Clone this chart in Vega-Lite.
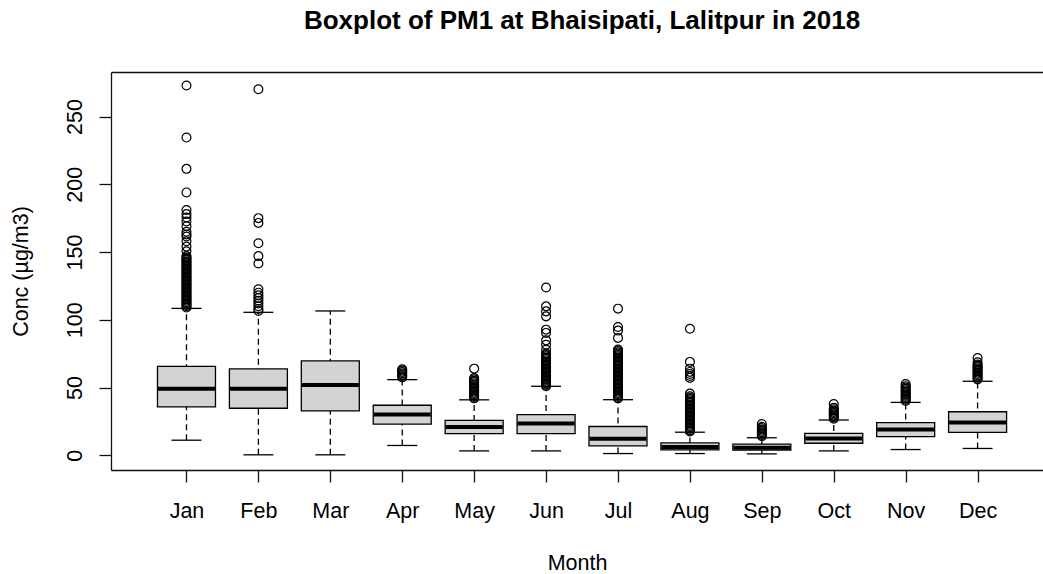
{
  "$schema": "https://vega.github.io/schema/vega-lite/v6.json",
  "width": 932,
  "height": 398,
  "autosize": "none",
  "padding": {"left": 111, "top": 72, "right": 0, "bottom": 104},
  "background": "white",
  "view": {"stroke": null},
  "config": {
    "font": "Liberation Sans",
    "axis": {"grid": false, "labelFont": "Liberation Sans", "titleFont": "Liberation Sans", "labelColor": "black", "titleColor": "black", "domainColor": "#111", "domainWidth": 1.3, "tickColor": "#111", "tickWidth": 1.3, "titleFontWeight": "normal"}
  },
  "title": {"text": "Boxplot of PM1 at Bhaisipati, Lalitpur in 2018", "font": "Liberation Sans", "fontSize": 26, "fontWeight": "bold", "color": "black", "anchor": "middle", "dx": 5, "offset": 38},
  "datasets": {
    "stats": [
      {"m": 1, "month": "Jan", "lo": 11.1, "q1": 35.7, "med": 49.0, "q3": 65.6, "hi": 108.4},
      {"m": 2, "month": "Feb", "lo": 0.3, "q1": 34.7, "med": 49.0, "q3": 63.7, "hi": 105.5},
      {"m": 3, "month": "Mar", "lo": 0.3, "q1": 32.7, "med": 51.9, "q3": 69.6, "hi": 106.5},
      {"m": 4, "month": "Apr", "lo": 7.2, "q1": 22.9, "med": 30.0, "q3": 36.9, "hi": 55.8},
      {"m": 5, "month": "May", "lo": 3.2, "q1": 16.0, "med": 20.9, "q3": 25.8, "hi": 40.9},
      {"m": 6, "month": "Jun", "lo": 3.2, "q1": 16.0, "med": 23.4, "q3": 30.0, "hi": 50.9},
      {"m": 7, "month": "Jul", "lo": 1.25, "q1": 6.9, "med": 12.1, "q3": 21.2, "hi": 41.0},
      {"m": 8, "month": "Aug", "lo": 1.25, "q1": 3.9, "med": 6.0, "q3": 9.1, "hi": 17.0},
      {"m": 9, "month": "Sep", "lo": 1.0, "q1": 3.8, "med": 5.6, "q3": 8.2, "hi": 12.9},
      {"m": 10, "month": "Oct", "lo": 3.2, "q1": 8.85, "med": 12.4, "q3": 16.1, "hi": 26.0},
      {"m": 11, "month": "Nov", "lo": 4.2, "q1": 13.8, "med": 19.0, "q3": 24.1, "hi": 39.0},
      {"m": 12, "month": "Dec", "lo": 5.0, "q1": 16.9, "med": 24.1, "q3": 32.1, "hi": 54.6}
    ],
    "outliers": [
      {"m": 1, "v": 109}, {"m": 1, "v": 110}, {"m": 1, "v": 111}, {"m": 1, "v": 112}, {"m": 1, "v": 113}, {"m": 1, "v": 114}, {"m": 1, "v": 115}, {"m": 1, "v": 116}, {"m": 1, "v": 117}, {"m": 1, "v": 118}, {"m": 1, "v": 119}, {"m": 1, "v": 120}, {"m": 1, "v": 121}, {"m": 1, "v": 122}, {"m": 1, "v": 123}, {"m": 1, "v": 124}, {"m": 1, "v": 125}, {"m": 1, "v": 126}, {"m": 1, "v": 127}, {"m": 1, "v": 128}, {"m": 1, "v": 129}, {"m": 1, "v": 130}, {"m": 1, "v": 131}, {"m": 1, "v": 132}, {"m": 1, "v": 133}, {"m": 1, "v": 134}, {"m": 1, "v": 135}, {"m": 1, "v": 136}, {"m": 1, "v": 137}, {"m": 1, "v": 138}, {"m": 1, "v": 139}, {"m": 1, "v": 140}, {"m": 1, "v": 141}, {"m": 1, "v": 142}, {"m": 1, "v": 143}, {"m": 1, "v": 144}, {"m": 1, "v": 145}, {"m": 1, "v": 146},
      {"m": 1, "v": 147}, {"m": 1, "v": 150.5}, {"m": 1, "v": 154}, {"m": 1, "v": 158}, {"m": 1, "v": 161.5}, {"m": 1, "v": 163}, {"m": 1, "v": 165}, {"m": 1, "v": 169}, {"m": 1, "v": 172.5}, {"m": 1, "v": 175.5}, {"m": 1, "v": 178}, {"m": 1, "v": 181}, {"m": 1, "v": 194}, {"m": 1, "v": 211.4}, {"m": 1, "v": 234.5}, {"m": 1, "v": 272.9},
      {"m": 2, "v": 106.5}, {"m": 2, "v": 108}, {"m": 2, "v": 110}, {"m": 2, "v": 112}, {"m": 2, "v": 114}, {"m": 2, "v": 116}, {"m": 2, "v": 118}, {"m": 2, "v": 120}, {"m": 2, "v": 122.5}, {"m": 2, "v": 141.5}, {"m": 2, "v": 147}, {"m": 2, "v": 156.5}, {"m": 2, "v": 171.5}, {"m": 2, "v": 175}, {"m": 2, "v": 270.2},
      {"m": 4, "v": 57.5}, {"m": 4, "v": 58.5}, {"m": 4, "v": 59.5}, {"m": 4, "v": 60.5}, {"m": 4, "v": 61.5}, {"m": 4, "v": 62.5}, {"m": 4, "v": 63.5},
      {"m": 5, "v": 42}, {"m": 5, "v": 43}, {"m": 5, "v": 44}, {"m": 5, "v": 45}, {"m": 5, "v": 46}, {"m": 5, "v": 47}, {"m": 5, "v": 48}, {"m": 5, "v": 49}, {"m": 5, "v": 50}, {"m": 5, "v": 51}, {"m": 5, "v": 52}, {"m": 5, "v": 53}, {"m": 5, "v": 54}, {"m": 5, "v": 55}, {"m": 5, "v": 56}, {"m": 5, "v": 57}, {"m": 5, "v": 63.9},
      {"m": 6, "v": 51}, {"m": 6, "v": 52}, {"m": 6, "v": 53}, {"m": 6, "v": 54}, {"m": 6, "v": 55}, {"m": 6, "v": 56}, {"m": 6, "v": 57}, {"m": 6, "v": 58}, {"m": 6, "v": 59}, {"m": 6, "v": 60}, {"m": 6, "v": 61}, {"m": 6, "v": 62}, {"m": 6, "v": 63}, {"m": 6, "v": 64}, {"m": 6, "v": 65}, {"m": 6, "v": 66}, {"m": 6, "v": 67}, {"m": 6, "v": 68}, {"m": 6, "v": 69}, {"m": 6, "v": 70}, {"m": 6, "v": 71}, {"m": 6, "v": 72}, {"m": 6, "v": 73}, {"m": 6, "v": 74}, {"m": 6, "v": 75},
      {"m": 6, "v": 77.9}, {"m": 6, "v": 81.6}, {"m": 6, "v": 84.8}, {"m": 6, "v": 90.3}, {"m": 6, "v": 92.7}, {"m": 6, "v": 102.5}, {"m": 6, "v": 106.2}, {"m": 6, "v": 109.9}, {"m": 6, "v": 123.8},
      {"m": 7, "v": 42}, {"m": 7, "v": 43}, {"m": 7, "v": 44}, {"m": 7, "v": 45}, {"m": 7, "v": 46}, {"m": 7, "v": 47}, {"m": 7, "v": 48}, {"m": 7, "v": 49}, {"m": 7, "v": 50}, {"m": 7, "v": 51}, {"m": 7, "v": 52}, {"m": 7, "v": 53}, {"m": 7, "v": 54}, {"m": 7, "v": 55}, {"m": 7, "v": 56}, {"m": 7, "v": 57}, {"m": 7, "v": 58}, {"m": 7, "v": 59}, {"m": 7, "v": 60}, {"m": 7, "v": 61}, {"m": 7, "v": 62}, {"m": 7, "v": 63}, {"m": 7, "v": 64}, {"m": 7, "v": 65}, {"m": 7, "v": 66}, {"m": 7, "v": 67}, {"m": 7, "v": 68}, {"m": 7, "v": 69}, {"m": 7, "v": 70}, {"m": 7, "v": 71}, {"m": 7, "v": 72}, {"m": 7, "v": 73}, {"m": 7, "v": 74}, {"m": 7, "v": 75}, {"m": 7, "v": 76}, {"m": 7, "v": 77}, {"m": 7, "v": 78},
      {"m": 7, "v": 86.6}, {"m": 7, "v": 92}, {"m": 7, "v": 94.7}, {"m": 7, "v": 108.2},
      {"m": 8, "v": 17.5}, {"m": 8, "v": 18.5}, {"m": 8, "v": 19.5}, {"m": 8, "v": 20.5}, {"m": 8, "v": 21.5}, {"m": 8, "v": 22.5}, {"m": 8, "v": 23.5}, {"m": 8, "v": 24.5}, {"m": 8, "v": 25.5}, {"m": 8, "v": 26.5}, {"m": 8, "v": 27.5}, {"m": 8, "v": 28.5}, {"m": 8, "v": 29.5}, {"m": 8, "v": 30.5}, {"m": 8, "v": 31.5}, {"m": 8, "v": 32.5}, {"m": 8, "v": 33.5}, {"m": 8, "v": 34.5}, {"m": 8, "v": 35.5}, {"m": 8, "v": 36.5}, {"m": 8, "v": 37.5}, {"m": 8, "v": 38.5}, {"m": 8, "v": 39.5}, {"m": 8, "v": 40.5}, {"m": 8, "v": 41.5}, {"m": 8, "v": 42.5}, {"m": 8, "v": 43.5},
      {"m": 8, "v": 45.5}, {"m": 8, "v": 57.1}, {"m": 8, "v": 58.5}, {"m": 8, "v": 60}, {"m": 8, "v": 61.5}, {"m": 8, "v": 63.9}, {"m": 8, "v": 68.9}, {"m": 8, "v": 93.4},
      {"m": 9, "v": 14}, {"m": 9, "v": 15}, {"m": 9, "v": 16}, {"m": 9, "v": 17}, {"m": 9, "v": 18}, {"m": 9, "v": 19}, {"m": 9, "v": 20}, {"m": 9, "v": 21}, {"m": 9, "v": 23.1},
      {"m": 10, "v": 27}, {"m": 10, "v": 28}, {"m": 10, "v": 29}, {"m": 10, "v": 30}, {"m": 10, "v": 31}, {"m": 10, "v": 32}, {"m": 10, "v": 33}, {"m": 10, "v": 34}, {"m": 10, "v": 35}, {"m": 10, "v": 37.8},
      {"m": 11, "v": 40}, {"m": 11, "v": 41}, {"m": 11, "v": 42}, {"m": 11, "v": 43}, {"m": 11, "v": 44}, {"m": 11, "v": 45}, {"m": 11, "v": 46}, {"m": 11, "v": 47}, {"m": 11, "v": 48}, {"m": 11, "v": 49}, {"m": 11, "v": 50}, {"m": 11, "v": 51}, {"m": 11, "v": 52.6},
      {"m": 12, "v": 56}, {"m": 12, "v": 57}, {"m": 12, "v": 58}, {"m": 12, "v": 59}, {"m": 12, "v": 60}, {"m": 12, "v": 61}, {"m": 12, "v": 62}, {"m": 12, "v": 63}, {"m": 12, "v": 64}, {"m": 12, "v": 65}, {"m": 12, "v": 66}, {"m": 12, "v": 67}, {"m": 12, "v": 68.6}, {"m": 12, "v": 71.8}
    ]
  },
  "resolve": {"axis": {"x": "independent", "y": "independent"}},
  "layer": [
    {
      "data": {"name": "stats"},
      "mark": {"type": "rule", "color": "black", "strokeWidth": 1.3, "strokeDash": [6, 4]},
      "encoding": {
        "x": {"field": "m", "type": "quantitative",
          "scale": {"domain": [0.02, 12.84], "nice": false, "zero": false},
          "axis": {"orient": "bottom", "values": [1, 2, 3, 4, 5, 6, 7, 8, 9, 10, 11, 12],
            "labelExpr": "['Jan','Feb','Mar','Apr','May','Jun','Jul','Aug','Sep','Oct','Nov','Dec'][datum.value - 1]",
            "tickSize": 12, "labelPadding": 18, "labelFontSize": 21.5, "labelFlush": false, "labelOverlap": false,
            "title": "Month", "titleFontSize": 21.5, "titlePadding": 31}},
        "y": {"field": "lo", "type": "quantitative",
          "scale": {"domain": [-10.9, 282.9], "nice": false, "zero": false},
          "axis": {"orient": "left", "values": [0, 50, 100, 150, 200, 250], "tickSize": 12, "labelPadding": 13,
            "labelAngle": 270, "labelAlign": "center", "labelBaseline": "bottom", "labelFontSize": 21.5, "labelFlush": false, "labelOverlap": false,
            "title": "Conc (µg/m3)", "titleFontSize": 21.5, "titlePadding": 32}},
        "y2": {"field": "hi"}
      }
    },
    {
      "data": {"name": "stats"},
      "mark": {"type": "bar", "size": 58, "fill": "#D3D3D3", "stroke": "black", "strokeWidth": 1.3},
      "encoding": {
        "x": {"field": "m", "type": "quantitative",
          "axis": {"orient": "top", "labels": false, "ticks": false, "domain": true, "title": null}},
        "y": {"field": "q1", "type": "quantitative",
          "axis": {"orient": "right", "labels": false, "ticks": false, "domain": false, "title": null}},
        "y2": {"field": "q3"}
      }
    },
    {
      "data": {"name": "stats"},
      "mark": {"type": "tick", "orient": "horizontal", "size": 57, "thickness": 4, "color": "black", "opacity": 1},
      "encoding": {
        "x": {"field": "m", "type": "quantitative", "axis": null},
        "y": {"field": "med", "type": "quantitative", "axis": null}
      }
    },
    {
      "data": {"name": "stats"},
      "mark": {"type": "tick", "orient": "horizontal", "size": 30, "thickness": 1.3, "color": "black", "opacity": 1},
      "encoding": {
        "x": {"field": "m", "type": "quantitative", "axis": null},
        "y": {"field": "lo", "type": "quantitative", "axis": null}
      }
    },
    {
      "data": {"name": "stats"},
      "mark": {"type": "tick", "orient": "horizontal", "size": 30, "thickness": 1.3, "color": "black", "opacity": 1},
      "encoding": {
        "x": {"field": "m", "type": "quantitative", "axis": null},
        "y": {"field": "hi", "type": "quantitative", "axis": null}
      }
    },
    {
      "data": {"name": "outliers"},
      "mark": {"type": "point", "shape": "circle", "filled": false, "size": 78, "stroke": "black", "strokeWidth": 1.2, "opacity": 1},
      "encoding": {
        "x": {"field": "m", "type": "quantitative", "axis": null},
        "y": {"field": "v", "type": "quantitative", "axis": null}
      }
    }
  ]
}
